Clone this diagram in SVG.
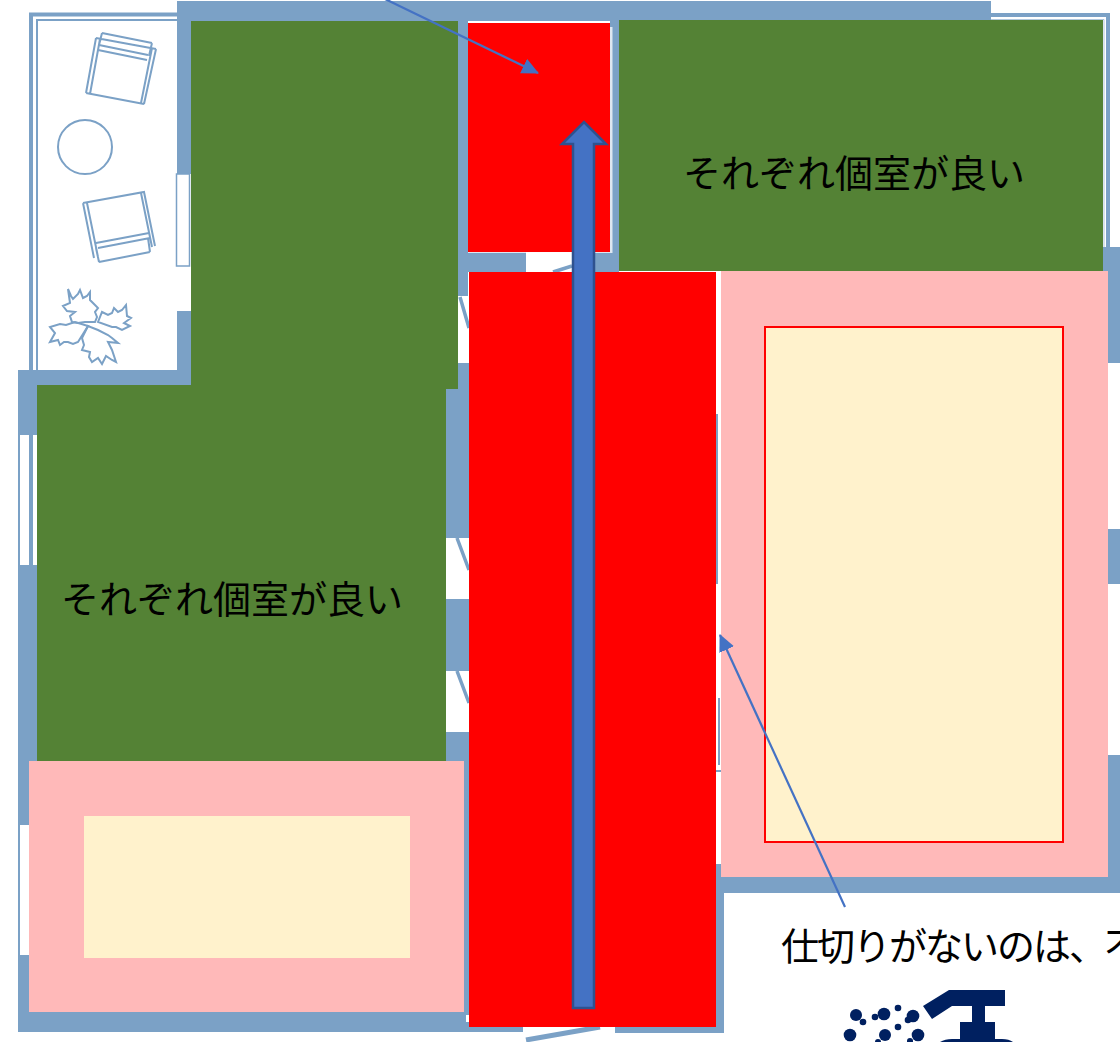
<svg xmlns="http://www.w3.org/2000/svg" width="1120" height="1042" viewBox="0 0 1120 1042">
<style>
.w{fill:#7ba1c6}
.t{fill:none;stroke:#7ba1c6;stroke-width:2}
.g{fill:#548235}
.r{fill:#ff0000}
.p{fill:#ffb9b9}
.c{fill:#fff2cc}
.l{fill:none;stroke:#4472c4;stroke-width:2.200}
.n{fill:#002060}
text{font-family:"Noto Sans CJK JP","Noto Sans CJK SC",sans-serif;font-size:38px;fill:#000}
</style>
<defs>
<marker id="a" markerUnits="userSpaceOnUse" markerWidth="18" markerHeight="18" refX="16" refY="8" orient="auto"><path d="M0,0L17,8L0,16Z" fill="#4472c4"/></marker>
</defs>
<rect width="1120" height="1042" fill="#fff"/>
<g id="plan">
<path class="t" style="stroke-width:4" d="M1108,247V15H991"/>
<path class="t" style="stroke-width:1;opacity:.6" d="M991,19.500H1104V247"/>
<path class="t" style="stroke-width:4" d="M177,14.500H31V372"/>
<path class="t" d="M177,20H37V372"/>
<rect class="w" x="177" y="1" width="814" height="20"/>
<rect class="w" x="177" y="1" width="14" height="173"/>
<rect class="w" x="177" y="311" width="14" height="70"/>
<rect x="176.500" y="174" width="13" height="92" fill="#fff" stroke="#7ba1c6" stroke-width="1.500"/>
<rect class="w" x="18" y="370" width="173" height="16"/>
<rect class="w" x="18" y="370" width="20" height="65"/>
<rect class="w" x="18" y="565" width="20" height="260"/>
<rect class="w" x="18" y="955" width="20" height="77"/>
<path class="t" style="stroke-width:4" d="M31,435V565"/>
<path class="t" d="M19,435V565M19,825V955M31,825V955"/>
<rect class="w" x="18" y="1012" width="448" height="20"/>
<rect class="w" x="458" y="21" width="10" height="275"/>
<rect class="w" x="610" y="21" width="9" height="250"/>
<rect class="w" x="458" y="252" width="68" height="20"/>
<rect class="w" x="594" y="252" width="25" height="20"/>
<path d="M553,272L572,266" stroke="#7ba1c6" stroke-width="3.500" fill="none"/>
<rect class="w" x="446" y="363" width="23" height="175"/>
<rect class="w" x="446" y="599" width="23" height="72"/>
<rect class="w" x="446" y="732" width="23" height="113"/>
<rect class="w" x="464" y="845" width="5" height="170"/>
<path d="M460,297L469,328M457,538L469,570M457,671L469,703M464,787L469,817" stroke="#7ba1c6" stroke-width="3.500" fill="none"/>
<rect class="w" x="460" y="1022" width="63" height="10"/>
<rect class="w" x="615" y="1022" width="108" height="11"/>
<path d="M526,1040L600,1027" stroke="#7ba1c6" stroke-width="5" fill="none"/>
<rect class="w" x="716" y="864" width="8" height="169"/>
<rect class="w" x="716" y="877" width="404" height="16"/>
<rect class="w" x="716" y="414" width="2" height="170"/>
<path class="t" d="M719,698V765M716,771H721"/>
<rect class="w" x="1103" y="247" width="17" height="116"/>
<rect class="w" x="1108" y="529" width="12" height="55"/>
<rect class="w" x="1108" y="755" width="12" height="138"/>
</g>
<g id="furniture">
<path class="t" d="M86,93L144,104M96,38L86,93M100,39L90,94M156,49L144,104M152,48L141,103M96,38L156,49M99,45L148,55M98,50L147,60M102,33L152,43M102,33L99,45M152,43L149,56"/>
<circle class="t" cx="85" cy="147" r="27"/>
<path class="t" d="M83,203L144,192L155,246M83,203L94,258M87,203L98,257M141,193L152,247M96,243L149,233M98,248L150,238M99,262L150,252M99,262L96,248M150,252L148,238"/>
<path class="t" d="M68,289L71,296L73,299L78,294L80,290L83,298L87,296L90,292L90,300L94,304L98,308L95,312L97,317L95,322L85,322L78,323L72,322L70,316L75,312L67,311L63,306L70,303Z"/>
<path class="t" d="M98,322L102,312L108,315L112,313L114,308L118,312L122,310L126,305L127,316L131,318L124,323L130,326L122,330L116,327L112,327Z"/>
<path class="t" d="M88,326L82,338L84,345L82,350L90,352L89,357L92,362L98,358L102,364L106,356L112,360L116,362L112,350L108,342L118,343L112,338L108,335L98,330Z"/>
<path class="t" d="M88,326L75,322L66,325L60,324L50,327L55,333L50,342L58,340L60,345L64,342L68,342L73,344L78,342Z"/>
</g>
<g id="room-top-left"><rect class="g" x="191" y="21" width="267" height="368"/></g>
<g id="room-left"><rect class="g" x="37" y="385" width="409" height="377"/><text x="61" y="613">それぞれ個室が良い</text></g>
<g id="room-top-right"><rect class="g" x="619" y="20" width="484" height="251"/><text x="683" y="187">それぞれ個室が良い</text></g>
<g id="corridor-top"><path d="M610,27H612.500V253H468V252H610Z" fill="#fff" opacity=".75"/><rect class="r" x="468" y="23" width="142" height="229"/></g>
<g id="corridor-main"><rect class="r" x="469" y="272" width="247" height="755"/></g>
<g id="room-right"><rect class="p" x="721" y="271" width="387" height="606"/><rect class="c" x="765" y="327" width="298" height="515" stroke="#ff0000" stroke-width="2"/></g>
<g id="room-bottom-left"><rect class="p" x="29" y="761" width="435" height="251"/><rect class="c" x="84" y="816" width="326" height="142"/></g>
<g id="connectors">
<path class="l" d="M385,-1L538,73" marker-end="url(#a)"/>
<path class="l" d="M845,907L720,635" marker-end="url(#a)"/>
<path d="M573,1008V144H562L584,122L606,144H594V1008Z" fill="#4472c4" stroke="#2f528f" stroke-width="2.500"/>
</g>
<g id="note"><text x="781" y="960" letter-spacing="-2">仕切りがないのは、不</text></g>
<g id="clipped-label"><text x="-8" y="1042" style="font-size:26px">)</text></g>
<g id="logo">
<path class="n" d="M949,990H1005V1006H985V1022H995V1042H960V1022H972V1006H952L932,1019L923,1006Z"/>
<path class="n" d="M940,1042Q945,1039 952,1039H1002Q1009,1039 1013,1042Z"/>
<circle class="n" cx="856" cy="1015" r="6"/><circle class="n" cx="863" cy="1022" r="3.300"/><circle class="n" cx="875" cy="1017" r="3.300"/><circle class="n" cx="884" cy="1014" r="6.300"/><circle class="n" cx="898" cy="1008" r="3.300"/><circle class="n" cx="913" cy="1016" r="6.300"/><circle class="n" cx="908" cy="1020" r="3.300"/><circle class="n" cx="898" cy="1027" r="3.300"/><circle class="n" cx="918" cy="1035" r="6.300"/><circle class="n" cx="885" cy="1035" r="6"/><circle class="n" cx="850" cy="1035" r="6.300"/><circle class="n" cx="910" cy="1041" r="3"/><circle class="n" cx="878" cy="1042" r="3"/>
</g>
</svg>
